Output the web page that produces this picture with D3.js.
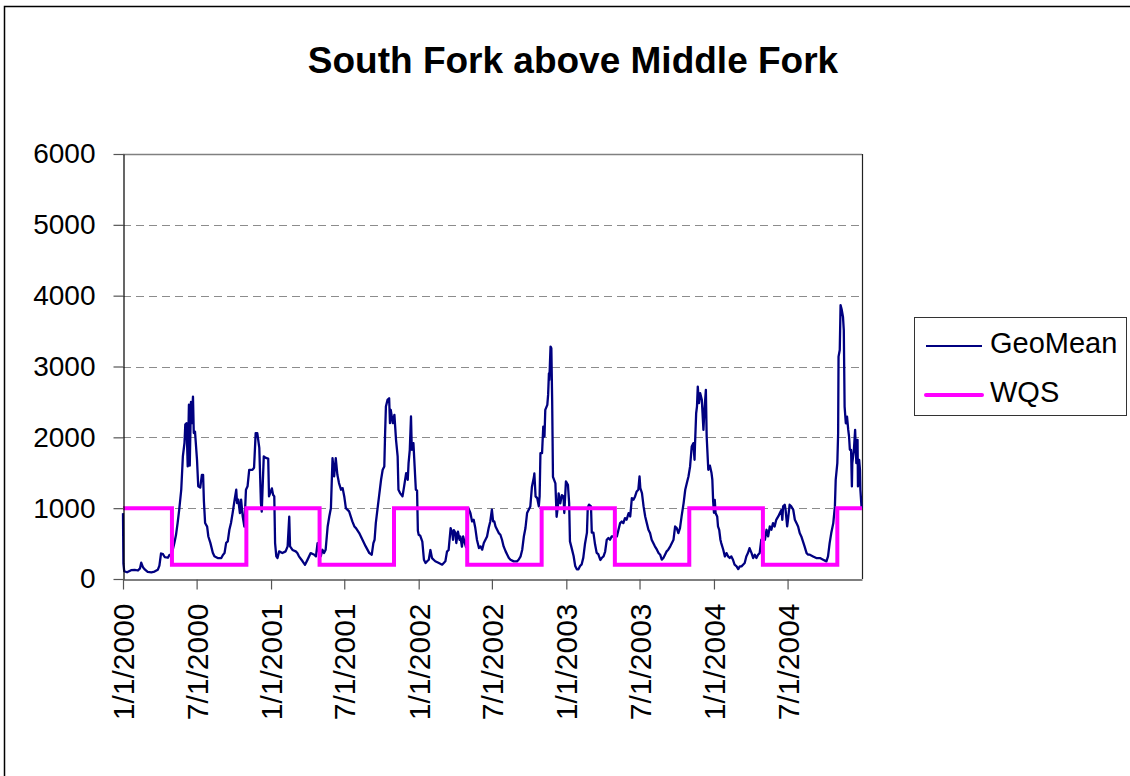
<!DOCTYPE html>
<html><head><meta charset="utf-8">
<script src="https://cdn.jsdelivr.net/npm/d3@7"></script>
<style>
body{margin:0;background:#fff;}
svg{display:block;font-family:"Liberation Sans",Arial,Helvetica,sans-serif;}
</style>
</head><body>
<svg id="chart" width="1130" height="776"></svg>
<script>
const chartTitle = "South Fork above Middle Fork";
const seriesNames = ["GeoMean", "WQS"];
const seriesColors = ["#000080", "#FF00FF"];
const yTicks = [0, 1000, 2000, 3000, 4000, 5000, 6000];
const xTickDates = ["2000-01-01","2000-07-01","2001-01-01","2001-07-01","2002-01-01","2002-07-01","2003-01-01","2003-07-01","2004-01-01","2004-07-01"];
const xDomain = ["2000-01-01", "2005-01-01"];

// Water quality standard (step: winter 1000, summer 200)
const wqs = [
  ["2000-01-01",1000],["2000-05-01",200],["2000-11-01",1000],["2001-05-01",200],["2001-11-01",1000],
  ["2002-05-01",200],["2002-11-01",1000],["2003-05-01",200],["2003-11-01",1000],["2004-05-01",200],
  ["2004-11-01",1000],["2005-01-01",1000]
];

// Rolling geometric mean
const geoMean = [
  ["2000-01-01",930],["2000-01-02",220],["2000-01-04",110],["2000-01-11",95],["2000-01-21",125],["2000-01-30",130],
  ["2000-02-07",120],["2000-02-12",150],["2000-02-15",230],["2000-02-19",170],["2000-02-23",140],["2000-03-02",100],
  ["2000-03-11",95],["2000-03-19",105],["2000-03-27",130],["2000-03-31",190],["2000-04-04",360],["2000-04-09",350],
  ["2000-04-13",310],["2000-04-21",300],["2000-04-25",340],["2000-04-29",330],["2000-05-03",413],["2000-05-07",507],
  ["2000-05-11",620],["2000-05-15",790],["2000-05-19",980],["2000-05-24",1260],["2000-05-28",1730],["2000-06-01",1920],
  ["2000-06-03",2180],["2000-06-06",2200],["2000-06-09",1590],["2000-06-12",2460],["2000-06-14",1600],["2000-06-17",2500],
  ["2000-06-19",2200],["2000-06-22",2575],["2000-06-24",2060],["2000-06-27",2080],["2000-07-02",1680],["2000-07-05",1310],
  ["2000-07-10",1290],["2000-07-14",1470],["2000-07-17",1470],["2000-07-19",1100],["2000-07-22",790],["2000-07-27",740],
  ["2000-07-30",600],["2000-08-04",510],["2000-08-10",370],["2000-08-14",320],["2000-08-22",296],["2000-08-31",296],
  ["2000-09-04",340],["2000-09-08",366],["2000-09-12",510],["2000-09-16",530],["2000-09-20",695],["2000-09-24",790],
  ["2000-09-28",930],["2000-10-03",1120],["2000-10-07",1260],["2000-10-09",1070],["2000-10-12",1120],["2000-10-16",930],
  ["2000-10-19",1120],["2000-10-23",880],["2000-10-27",740],["2000-10-31",1260],["2000-11-04",1310],["2000-11-08",1540],
  ["2000-11-16",1540],["2000-11-20",1570],["2000-11-24",2060],["2000-11-28",2060],["2000-12-03",1850],["2000-12-07",1070],
  ["2000-12-09",950],["2000-12-14",1730],["2000-12-19",1710],["2000-12-25",1700],["2000-12-27",1166],
  ["2001-01-03",1280],["2001-01-06",1190],["2001-01-09",1166],["2001-01-11",507],["2001-01-14",319],["2001-01-17",296],
  ["2001-01-21",390],["2001-01-29",366],["2001-02-06",390],["2001-02-11",460],["2001-02-15",880],["2001-02-17",460],
  ["2001-02-23",410],["2001-03-03",390],["2001-03-07",366],["2001-03-11",320],["2001-03-20",250],["2001-03-26",200],
  ["2001-04-01",270],["2001-04-09",366],["2001-04-18",343],["2001-04-22",320],["2001-04-26",507],["2001-04-30",366],
  ["2001-05-04",320],["2001-05-08",413],["2001-05-12",366],["2001-05-16",413],["2001-05-21",742],["2001-05-25",883],
  ["2001-05-29",1001],["2001-06-02",1707],["2001-06-06",1448],["2001-06-10",1707],["2001-06-14",1471],["2001-06-18",1354],
  ["2001-06-23",1260],["2001-06-27",1283],["2001-07-01",1166],["2001-07-05",1001],["2001-07-13",954],["2001-07-17",883],
  ["2001-07-21",813],["2001-07-26",742],["2001-07-30",719],["2001-08-07",648],["2001-08-15",554],["2001-08-23",460],
  ["2001-09-01",366],["2001-09-07",343],["2001-09-11",507],["2001-09-14",554],["2001-09-17",790],["2001-09-21",978],
  ["2001-09-25",1166],["2001-09-30",1401],["2001-10-04",1542],["2001-10-08",1589],["2001-10-10",2059],["2001-10-12",2435],
  ["2001-10-16",2529],["2001-10-20",2552],["2001-10-22",2200],["2001-10-24",2388],["2001-10-29",2200],["2001-11-02",2318],
  ["2001-11-06",1965],["2001-11-10",1730],["2001-11-12",1260],["2001-11-16",1213],["2001-11-22",1166],["2001-11-26",1307],
  ["2001-12-01",1495],["2001-12-05",1401],["2001-12-07",1636],["2001-12-10",1824],["2001-12-13",2294],["2001-12-15",1824],
  ["2001-12-19",1918],["2001-12-22",1589],["2001-12-25",1260],["2001-12-28",1250],["2001-12-30",680],
  ["2002-01-01",625],["2002-01-05",610],["2002-01-10",527],["2002-01-14",272],["2002-01-18",225],["2002-01-22",250],
  ["2002-01-26",272],["2002-01-30",409],["2002-02-03",295],["2002-02-07",272],["2002-02-11",250],["2002-02-20",225],
  ["2002-02-28",202],["2002-03-08",250],["2002-03-12",386],["2002-03-16",409],["2002-03-21",719],["2002-03-25",650],
  ["2002-03-27",554],["2002-03-29",690],["2002-04-02",650],["2002-04-04",508],["2002-04-08",670],["2002-04-12",554],
  ["2002-04-14",600],["2002-04-18",456],["2002-04-21",600],["2002-04-24",530],["2002-04-28",450],["2002-05-01",700],
  ["2002-05-04",1001],["2002-05-09",930],["2002-05-13",813],["2002-05-17",836],["2002-05-21",719],["2002-05-25",555],
  ["2002-05-30",437],["2002-06-03",460],["2002-06-07",414],["2002-06-11",508],["2002-06-15",554],["2002-06-19",600],
  ["2002-06-23",719],["2002-06-27",813],["2002-07-01",978],["2002-07-04",813],["2002-07-07",813],["2002-07-10",742],
  ["2002-07-14",695],["2002-07-18",648],["2002-07-22",625],["2002-07-26",554],["2002-07-30",460],["2002-08-04",390],
  ["2002-08-08",343],["2002-08-12",296],["2002-08-16",272],["2002-08-24",249],["2002-09-01",249],["2002-09-05",272],
  ["2002-09-10",320],["2002-09-14",414],["2002-09-18",600],["2002-09-22",720],["2002-09-26",931],["2002-09-30",978],
  ["2002-10-04",1025],["2002-10-08",1303],["2002-10-13",1443],["2002-10-14",1490],["2002-10-17",1166],["2002-10-21",1142],
  ["2002-10-25",1025],["2002-10-27",1166],["2002-10-29",1776],["2002-11-02",1776],["2002-11-05",2152],["2002-11-08",2011],
  ["2002-11-10",2387],["2002-11-15",2458],["2002-11-17",2599],["2002-11-19",2904],["2002-11-20",2810],["2002-11-23",3281],
  ["2002-11-25",3257],["2002-11-27",2528],["2002-11-29",1443],["2002-12-05",1349],["2002-12-08",879],["2002-12-11",1020],
  ["2002-12-13",1209],["2002-12-17",1067],["2002-12-21",1185],["2002-12-25",1166],["2002-12-27",931],["2002-12-31",1377],
  ["2003-01-05",1330],["2003-01-08",1072],["2003-01-10",531],["2003-01-15",418],["2003-01-19",324],["2003-01-23",183],
  ["2003-01-27",136],["2003-01-31",136],["2003-02-04",183],["2003-02-08",207],["2003-02-12",302],["2003-02-16",490],
  ["2003-02-21",654],["2003-02-23",1006],["2003-02-26",1050],["2003-03-03",1025],["2003-03-05",654],["2003-03-09",654],
  ["2003-03-13",490],["2003-03-17",370],["2003-03-21",350],["2003-03-26",269],["2003-03-30",300],["2003-04-03",320],
  ["2003-04-07",388],["2003-04-11",555],["2003-04-15",578],["2003-04-19",555],["2003-04-23",600],["2003-04-27",600],
  ["2003-05-06",601],["2003-05-10",695],["2003-05-14",789],["2003-05-18",812],["2003-05-22",789],["2003-05-26",859],
  ["2003-05-30",836],["2003-06-04",931],["2003-06-08",883],["2003-06-12",1143],["2003-06-16",1119],["2003-06-20",1166],
  ["2003-06-24",1236],["2003-06-28",1260],["2003-07-01",1448],["2003-07-03",1283],["2003-07-07",1213],["2003-07-11",1025],
  ["2003-07-15",883],["2003-07-19",789],["2003-07-23",695],["2003-07-27",648],["2003-07-31",555],["2003-08-04",508],
  ["2003-08-08",461],["2003-08-13",414],["2003-08-17",367],["2003-08-21",343],["2003-08-25",273],["2003-08-29",296],
  ["2003-09-02",343],["2003-09-06",390],["2003-09-10",414],["2003-09-15",461],["2003-09-19",508],["2003-09-23",555],
  ["2003-09-27",742],["2003-10-01",719],["2003-10-05",648],["2003-10-09",719],["2003-10-13",883],["2003-10-18",1072],
  ["2003-10-22",1260],["2003-10-26",1354],["2003-10-30",1447],["2003-11-03",1589],["2003-11-07",1871],["2003-11-11",1918],
  ["2003-11-14",1683],["2003-11-15",1871],["2003-11-18",2340],["2003-11-20",2434],["2003-11-22",2717],["2003-11-25",2482],
  ["2003-11-28",2623],["2003-12-02",2529],["2003-12-06",2105],["2003-12-08",2340],["2003-12-12",2670],["2003-12-14",2011],
  ["2003-12-18",1542],["2003-12-22",1600],["2003-12-26",1495],["2003-12-28",1401],["2003-12-30",1100],
  ["2004-01-01",935],["2004-01-03",1118],["2004-01-05",930],["2004-01-09",883],["2004-01-11",742],["2004-01-14",695],
  ["2004-01-17",554],["2004-01-19",507],["2004-01-24",413],["2004-01-28",319],["2004-02-01",366],["2004-02-05",319],
  ["2004-02-09",296],["2004-02-13",319],["2004-02-17",272],["2004-02-21",202],["2004-02-26",178],["2004-03-01",140],
  ["2004-03-05",178],["2004-03-09",178],["2004-03-13",202],["2004-03-17",225],["2004-03-21",319],["2004-03-25",366],
  ["2004-03-29",435],["2004-04-03",366],["2004-04-07",296],["2004-04-11",343],["2004-04-15",296],["2004-04-19",343],
  ["2004-04-23",366],["2004-04-27",554],["2004-05-06",554],["2004-05-10",695],["2004-05-14",601],["2004-05-18",742],
  ["2004-05-22",695],["2004-05-26",789],["2004-05-30",742],["2004-06-03",836],["2004-06-08",883],["2004-06-12",930],
  ["2004-06-16",978],["2004-06-18",836],["2004-06-20",1025],["2004-06-24",1048],["2004-06-26",978],["2004-06-30",742],
  ["2004-07-02",836],["2004-07-06",1048],["2004-07-10",1025],["2004-07-15",978],["2004-07-19",836],["2004-07-23",789],
  ["2004-07-27",742],["2004-07-31",648],["2004-08-04",601],["2004-08-08",531],["2004-08-12",460],["2004-08-17",366],
  ["2004-08-21",343],["2004-08-25",343],["2004-09-02",319],["2004-09-10",296],["2004-09-19",296],["2004-09-27",272],
  ["2004-10-05",249],["2004-10-09",319],["2004-10-13",507],["2004-10-17",648],["2004-10-22",789],["2004-10-26",1025],
  ["2004-10-28",1401],["2004-11-01",1636],["2004-11-03",2058],["2004-11-04",3140],["2004-11-07",3234],["2004-11-09",3866],
  ["2004-11-12",3800],["2004-11-15",3700],["2004-11-17",3514],["2004-11-19",2434],["2004-11-22",2199],["2004-11-25",2293],
  ["2004-11-28",2105],["2004-11-30",2011],["2004-12-02",1824],["2004-12-05",1824],["2004-12-07",1307],["2004-12-08",1636],
  ["2004-12-12",1824],["2004-12-15",2105],["2004-12-18",1636],["2004-12-21",1965],["2004-12-22",1307],["2004-12-25",1683],
  ["2004-12-27",1542],["2004-12-28",1260],["2004-12-31",1000]
];

const parse = d3.timeParse("%Y-%m-%d");
const svg = d3.select("#chart");
const W = 1130, H = 776;
const plot = {left: 123, right: 862, top: 154, bottom: 579};

// chart frame
svg.append("rect").attr("x", 0).attr("y", 0).attr("width", W).attr("height", H).attr("fill", "#fff");
svg.append("rect").attr("x", 4.5).attr("y", 6.5).attr("width", W + 10).attr("height", H + 10)
  .attr("fill", "none").attr("stroke", "#000").attr("stroke-width", 1.5);

const x = d3.scaleTime().domain(xDomain.map(parse)).range([plot.left, plot.right]);
const y = d3.scaleLinear().domain([0, 6000]).range([plot.bottom, plot.top]);

// title
svg.append("text").attr("x", 573).attr("y", 73).attr("text-anchor", "middle")
  .attr("font-size", 37).attr("font-weight", "bold").attr("fill", "#000").text(chartTitle);

// gridlines
svg.append("g").selectAll("line").data(yTicks.filter(v => v > 0 && v < 6000)).join("line")
  .attr("x1", plot.left).attr("x2", plot.right)
  .attr("y1", d => Math.round(y(d)) + 0.5).attr("y2", d => Math.round(y(d)) + 0.5)
  .attr("stroke", "#8c8c8c").attr("stroke-width", 1).attr("stroke-dasharray", "8,5");

// plot border (top gray, right dark)
svg.append("line").attr("x1", plot.left).attr("x2", plot.right).attr("y1", y(6000) + 0.5).attr("y2", y(6000) + 0.5)
  .attr("stroke", "#808080").attr("stroke-width", 1.5);
svg.append("line").attr("x1", plot.right + 0.5).attr("x2", plot.right + 0.5).attr("y1", plot.top).attr("y2", plot.bottom)
  .attr("stroke", "#222").attr("stroke-width", 1.2);

// series
const line = d3.line().x(d => x(parse(d[0]))).y(d => y(d[1]));
svg.append("path").datum(geoMean).attr("d", line).attr("fill", "none")
  .attr("stroke", seriesColors[0]).attr("stroke-width", 2.3).attr("stroke-linejoin", "round");
const stepLine = d3.line().curve(d3.curveStepAfter).x(d => x(parse(d[0]))).y(d => y(d[1]));
svg.append("path").datum(wqs).attr("d", stepLine).attr("fill", "none")
  .attr("stroke", seriesColors[1]).attr("stroke-width", 4).attr("stroke-linejoin", "miter");

// y axis
const yAxis = svg.append("g").attr("transform", `translate(${plot.left + 0.5},0)`)
  .call(d3.axisLeft(y).tickValues(yTicks).tickFormat(d3.format("d")).tickSize(10).tickSizeOuter(0).tickPadding(18));
yAxis.select(".domain").attr("stroke", "#000").attr("stroke-width", 1.2);
yAxis.selectAll(".tick line").attr("stroke", "#555").attr("stroke-width", 1.2);
yAxis.selectAll(".tick text").attr("font-size", 28).attr("font-family", "Liberation Sans, Arial, sans-serif").attr("fill", "#000");

// x axis
const xAxis = svg.append("g").attr("transform", `translate(0,${plot.bottom + 0.5})`)
  .call(d3.axisBottom(x).tickValues(xTickDates.map(parse)).tickFormat(d3.timeFormat("%-m/%-d/%Y"))
    .tickSize(10).tickSizeOuter(0));
xAxis.select(".domain").attr("stroke", "#000").attr("stroke-width", 1.2);
xAxis.selectAll(".tick line").attr("stroke", "#555").attr("stroke-width", 1.2);
xAxis.selectAll(".tick text").attr("font-size", 30).attr("font-family", "Liberation Sans, Arial, sans-serif")
  .attr("fill", "#000").attr("transform", "rotate(-90)").attr("text-anchor", "end")
  .attr("x", -24).attr("y", 0).attr("dy", "0.35em");

// legend
const lg = svg.append("g");
lg.append("rect").attr("x", 914.5).attr("y", 317.5).attr("width", 212).attr("height", 98)
  .attr("fill", "#fff").attr("stroke", "#333").attr("stroke-width", 1);
const legendRows = [346, 395];
seriesNames.forEach((name, i) => {
  lg.append("line").attr("x1", 926).attr("x2", 982).attr("y1", legendRows[i]).attr("y2", legendRows[i])
    .attr("stroke", seriesColors[i]).attr("stroke-width", i === 0 ? 2 : 4)
    .attr("stroke-linecap", i === 0 ? "butt" : "round");
  lg.append("text").attr("x", 990).attr("y", legendRows[i] + 7).attr("font-size", 29).attr("fill", "#000").text(name);
});
</script>
</body></html>
